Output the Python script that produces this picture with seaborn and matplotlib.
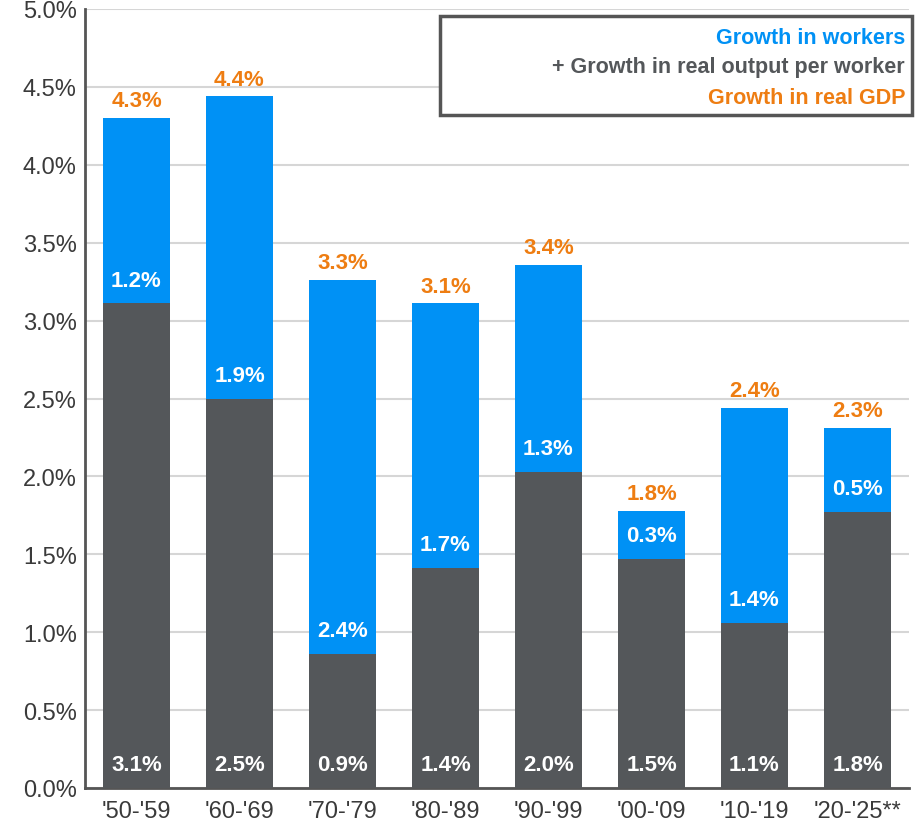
import matplotlib
matplotlib.use("Agg")
import matplotlib.pyplot as plt
from matplotlib.patches import Rectangle
from matplotlib.ticker import FuncFormatter, MultipleLocator, FixedLocator
import seaborn as sns
import pandas as pd

# Decade growth decomposition (percent per year)
periods = ["'50-'59", "'60-'69", "'70-'79", "'80-'89", "'90-'99", "'00-'09", "'10-'19", "'20-'25**"]
output_per_worker = [3.11, 2.50, 0.86, 1.41, 2.03, 1.47, 1.06, 1.77]
workers = [1.19, 1.94, 2.40, 1.70, 1.33, 0.31, 1.38, 0.54]
real_gdp = [a + b for a, b in zip(output_per_worker, workers)]

BLUE = "#0091F5"
GRAY = "#54575A"
ORANGE = "#EE7D12"
TEXT = "#3A3A3A"

sns.set_theme(style="white")
plt.rcParams["font.family"] = ["Liberation Sans", "DejaVu Sans"]

df = pd.DataFrame({"period": periods, "gray": output_per_worker,
                   "blue": workers, "total": real_gdp})

fig = plt.figure(figsize=(9.15, 8.28), dpi=100)
ax = fig.add_axes([85 / 915, 39 / 828, 824 / 915, 779 / 828])

sns.barplot(data=df, x="period", y="total", color=BLUE, width=0.65,
            saturation=1, ax=ax, zorder=3, edgecolor=BLUE, linewidth=0)
sns.barplot(data=df, x="period", y="gray", color=GRAY, width=0.65,
            saturation=1, ax=ax, zorder=4, edgecolor=GRAY, linewidth=0)

for i, (g, b, t) in enumerate(zip(output_per_worker, workers, real_gdp)):
    ax.text(i, 0.15, f"{g:.1f}%", ha="center", va="center", color="white",
            fontsize=16, fontweight="bold", zorder=5)
    ax.text(i, g + 0.15, f"{b:.1f}%", ha="center", va="center", color="white",
            fontsize=16, fontweight="bold", zorder=5)
    ax.text(i, t + 0.11, f"{t:.1f}%", ha="center", va="center", color=ORANGE,
            fontsize=16, fontweight="bold", zorder=5)

ax.set_ylim(0, 5.0)
ax.set_xlim(-0.5, 7.5)
ax.yaxis.set_major_locator(MultipleLocator(0.5))
ax.yaxis.set_major_formatter(FuncFormatter(lambda v, _: f"{v:.1f}%"))
ax.grid(axis="y", color="#D6D6D6", linewidth=1.5, zorder=0)
ax.set_axisbelow(True)
ax.set_xlabel("")
ax.set_ylabel("")

for side in ("top", "right"):
    ax.spines[side].set_visible(False)
for side in ("left", "bottom"):
    ax.spines[side].set_color("#555555")
    ax.spines[side].set_linewidth(2)

ax.tick_params(axis="y", length=0, labelsize=17, labelcolor=TEXT, pad=6)
ax.tick_params(axis="x", which="major", length=0, labelsize=17,
               labelcolor=TEXT, pad=9)
ax.xaxis.set_minor_locator(FixedLocator([k + 0.5 for k in range(8)]))
ax.tick_params(axis="x", which="minor", length=6, width=2, color="#555555",
               direction="out")

# Equation key in the upper right
fig.patches.append(Rectangle((440 / 915, 712 / 828), 472 / 915, 99 / 828,
                             transform=fig.transFigure, facecolor="white",
                             edgecolor="#555555", linewidth=2.5, zorder=10))
key_x = 905 / 915
fig.text(key_x, 1 - 38 / 828, "Growth in workers", color=BLUE, ha="right",
         va="center", fontsize=15.5, fontweight="bold", zorder=11)
fig.text(key_x, 1 - 68 / 828, "+ Growth in real output per worker", color=GRAY,
         ha="right", va="center", fontsize=15.5, fontweight="bold", zorder=11)
fig.text(key_x, 1 - 98 / 828, "Growth in real GDP", color=ORANGE, ha="right",
         va="center", fontsize=15.5, fontweight="bold", zorder=11)

fig.savefig("out.png", dpi=100, facecolor="white")
